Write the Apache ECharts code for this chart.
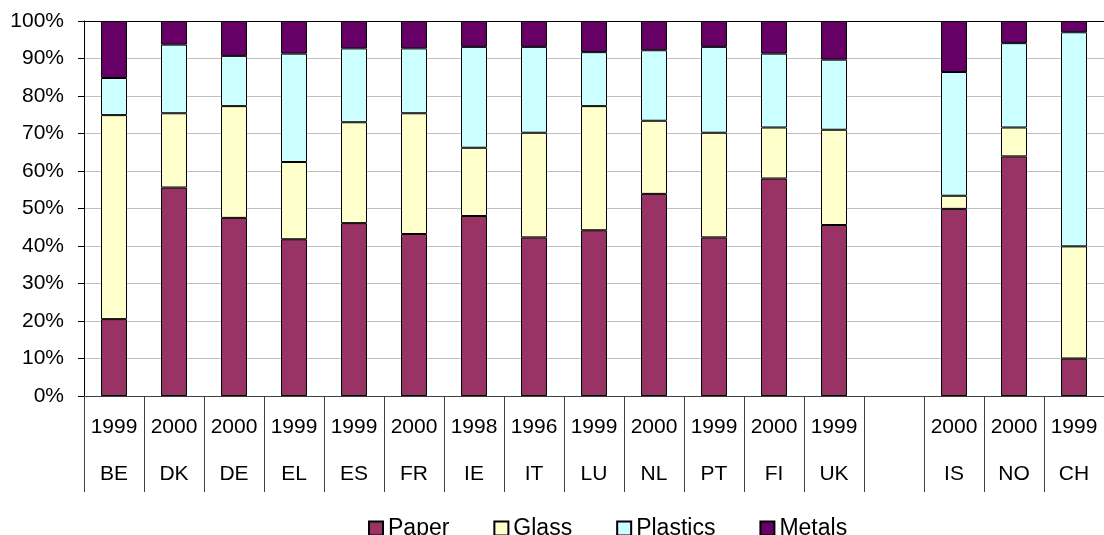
<!DOCTYPE html>
<html>
<head>
<meta charset="utf-8">
<script src="https://cdn.jsdelivr.net/npm/echarts@6/dist/echarts.min.js"></script>
<style>
  html, body { margin: 0; padding: 0; background: #fff; }
  #chart { width: 1104px; height: 535px; }
</style>
</head>
<body>
<div id="chart"></div>
<script>
// Country codes and reference years (empty slot separates EU from EFTA countries)
const countries = ['BE', 'DK', 'DE', 'EL', 'ES', 'FR', 'IE', 'IT', 'LU', 'NL', 'PT', 'FI', 'UK', '', 'IS', 'NO', 'CH'];
const years = ['1999', '2000', '2000', '1999', '1999', '2000', '1998', '1996', '1999', '2000', '1999', '2000', '1999', '', '2000', '2000', '1999'];

// Share of packaging waste by material (%)
const paper    = [20.5, 55.6, 47.5, 41.8, 46.1, 43.2, 48.0, 42.3, 44.2, 53.9, 42.3, 58.0, 45.6, null, 49.9, 63.9, 10.0];
const glass    = [54.4, 19.8, 29.8, 20.6, 26.9, 32.2, 18.2, 27.9, 33.1, 19.5, 27.9, 13.6, 25.4, null,  3.5,  7.7, 29.9];
const plastics = [ 9.9, 18.3, 13.4, 28.9, 19.7, 17.3, 26.9, 22.9, 14.4, 18.8, 22.9, 19.7, 18.7, null, 33.0, 22.5, 57.1];
const metals   = [15.2,  6.3,  9.3,  8.7,  7.3,  7.3,  6.9,  6.9,  8.3,  7.8,  6.9,  8.7, 10.3, null, 13.6,  5.9,  3.0];

const yTicks = { min: 0, max: 100, step: 10 };

const font = "'Liberation Sans', Arial, sans-serif";

const materials = [
  { name: 'Paper',    data: paper,    color: '#993366' },
  { name: 'Glass',    data: glass,    color: '#FFFFCC' },
  { name: 'Plastics', data: plastics, color: '#CCFFFF' },
  { name: 'Metals',   data: metals,   color: '#660066' }
];

const chart = echarts.init(document.getElementById('chart'), null, { renderer: 'canvas' });

chart.setOption({
  animation: false,
  backgroundColor: '#fff',
  textStyle: { fontFamily: font },
  grid: { left: 84, top: 21, width: 1027, height: 375, containLabel: false },
  legend: {
    left: 368,
    top: 517,
    padding: 0,
    itemWidth: 14,
    itemHeight: 14,
    itemGap: 44,
    icon: 'rect',
    textStyle: { fontFamily: font, fontSize: 23, color: '#000', padding: [0, 0, 0, 0] },
    data: materials.map(m => m.name)
  },
  xAxis: [
    {
      type: 'category',
      data: countries,
      boundaryGap: true,
      axisLine: { show: true, lineStyle: { color: '#404040', width: 1 } },
      axisTick: { show: true, interval: 0, length: 96, lineStyle: { color: '#404040', width: 1 } },
      axisLabel: {
        interval: 0,
        margin: 8,
        formatter: function (value, idx) {
          if (!years[idx]) return '';
          return '{y|' + years[idx] + '}\n{c|' + value + '}';
        },
        rich: {
          y: { fontFamily: font, fontSize: 21, lineHeight: 47, color: '#000' },
          c: { fontFamily: font, fontSize: 21, lineHeight: 47, color: '#000' }
        }
      },
      splitLine: { show: false }
    },
    {
      type: 'category',
      data: countries,
      position: 'top',
      axisLine: { show: true, lineStyle: { color: '#000', width: 1 } },
      axisTick: { show: false },
      axisLabel: { show: false },
      splitLine: { show: false }
    }
  ],
  yAxis: {
    type: 'value',
    min: yTicks.min,
    max: yTicks.max,
    interval: yTicks.step,
    axisLine: { show: true, lineStyle: { color: '#000', width: 1 } },
    axisTick: { show: true, length: 6, lineStyle: { color: '#000' } },
    axisLabel: {
      margin: 20,
      formatter: '{value}%',
      fontFamily: font,
      fontSize: 21,
      color: '#000'
    },
    splitLine: { show: true, lineStyle: { color: '#c0c0c0', width: 1 } }
  },
  series: materials.map(m => ({
    name: m.name,
    type: 'bar',
    stack: 'share',
    xAxisIndex: 0,
    barWidth: 26,
    data: m.data,
    itemStyle: { color: m.color, borderColor: '#000', borderWidth: 1 },
    emphasis: { disabled: true }
  }))
});
</script>
</body>
</html>
